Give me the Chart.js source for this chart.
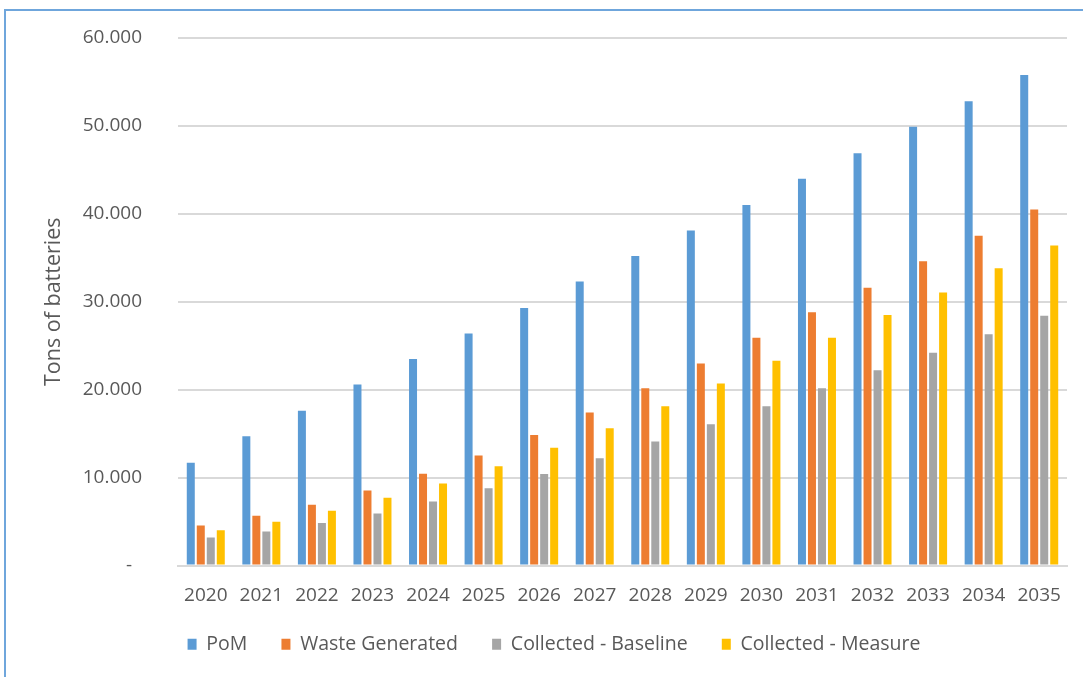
<!DOCTYPE html>
<html>
<head>
<meta charset="utf-8">
<script src="https://cdn.jsdelivr.net/npm/chart.js@4/dist/chart.umd.min.js"></script>
<style>
  html, body { margin: 0; padding: 0; overflow: hidden; background: #fff; width: 1083px; height: 677px; }
  #wrap { position: absolute; left: 0; top: 0; width: 1108px; height: 677px; }
  #frame { position: absolute; left: 4px; top: 9px; width: 1200px; height: 800px; border: 2px solid #6fa6dc; box-sizing: border-box; pointer-events: none; }
  canvas { position: absolute; left: 0; top: 0; }
</style>
</head>
<body>
<div id="wrap"><canvas id="c" width="1108" height="677"></canvas></div>
<div id="frame"></div>
<script>
const years = ['2020','2021','2022','2023','2024','2025','2026','2027','2028','2029','2030','2031','2032','2033','2034','2035'];
const pom       = [11700, 14700, 17600, 20600, 23500, 26400, 29300, 32300, 35200, 38100, 41000, 44000, 46900, 49900, 52800, 55800];
const wasteGen  = [4550, 5660, 6900, 8540, 10440, 12500, 14840, 17400, 20160, 22970, 25900, 28800, 31600, 34600, 37500, 40500];
const baseline  = [3190, 3870, 4820, 5920, 7290, 8800, 10400, 12200, 14100, 16060, 18100, 20160, 22200, 24200, 26300, 28400];
const measure   = [4020, 4970, 6230, 7710, 9340, 11300, 13400, 15600, 18100, 20700, 23300, 25900, 28500, 31060, 33800, 36400];
const seriesNames = ['PoM', 'Waste Generated', 'Collected - Baseline', 'Collected - Measure'];
const yTicks = [0, 10000, 20000, 30000, 40000, 50000, 60000];

const colors = ['#5B9BD5', '#ED7D31', '#A5A5A5', '#FFC000'];
const FONT = '"Open Sans", "Liberation Sans", sans-serif';
const TXT = '#595959';

function fmt(v) {
  if (v === 0) return '-  ';
  return String(v).replace(/\B(?=(\d{3})+(?!\d))/g, '.');
}

const ds = [pom, wasteGen, baseline, measure].map((d, i) => ({
  label: seriesNames[i],
  data: d,
  backgroundColor: colors[i],
  borderWidth: 0,
  categoryPercentage: 0.72,
  barPercentage: 0.8
}));

new Chart(document.getElementById('c'), {
  type: 'bar',
  data: { labels: years, datasets: ds },
  options: {
    responsive: false,
    animation: false,
    devicePixelRatio: 1,
    layout: { padding: { left: 41, right: 41, top: 38, bottom: 13 } },
    plugins: {
      tooltip: { enabled: false },
      legend: {
        position: 'bottom',
        labels: {
          color: TXT,
          font: { family: FONT, size: 19.5 },
          boxWidth: 9,
          boxHeight: 11,
          padding: 24,
          generateLabels: (chart) => {
            const items = Chart.defaults.plugins.legend.labels.generateLabels(chart);
            items.forEach((it, i) => { if (i < items.length - 1) it.text = it.text + '  '; });
            return items;
          }
        }
      }
    },
    scales: {
      x: {
        grid: { display: false, drawTicks: false },
        border: { display: true, color: '#d9d9d9', width: 2 },
        ticks: { color: TXT, font: { family: FONT, size: 19 }, padding: 19, maxRotation: 0 },
        afterFit: (s) => { s.height = 45; }
      },
      y: {
        min: 0, max: 60000,
        afterBuildTicks: (s) => { s.ticks = yTicks.map(v => ({ value: v })); },
        grid: { color: '#d9d9d9', lineWidth: 2, drawTicks: true, tickLength: 33, tickColor: 'rgba(0,0,0,0)' },
        border: { display: false },
        ticks: { color: TXT, font: { family: FONT, size: 19 }, padding: 3, callback: (v) => fmt(v) },
        title: { display: true, text: 'Tons of batteries', color: TXT, font: { family: FONT, size: 21.5 }, padding: { top: 0, bottom: 0 } },
        afterFit: (s) => { s.width = 137; }
      }
    }
  }
});
</script>
</body>
</html>
